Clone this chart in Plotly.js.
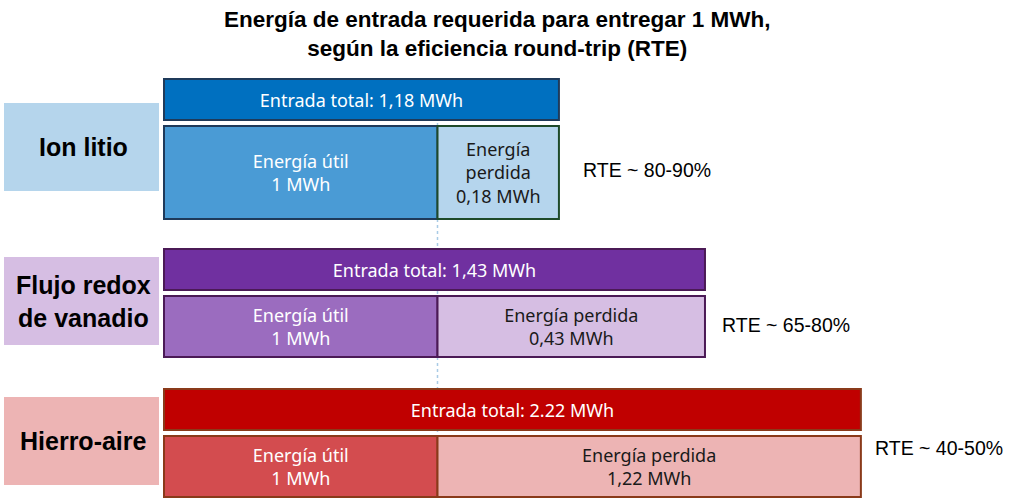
<!DOCTYPE html>
<html>
<head>
<meta charset="utf-8">
<script src="https://cdn.plot.ly/plotly-3.0.1.min.js"></script>
<style>
  html, body { margin: 0; padding: 0; background: #fff; }
  #chart { width: 1024px; height: 503px; }
</style>
</head>
<body>
<div id="chart"></div>
<script>
// Technologies (label boxes on the left)
var techs = ['Ion litio', 'Flujo redox<br>de vanadio', 'Hierro-aire'];

// Values written on the bars
var totalLabels = ['1,18 MWh', '1,43 MWh', '2.22 MWh'];
var usefulLabels = ['1 MWh', '1 MWh', '1 MWh'];
var lostLabels = ['0,18 MWh', '0,43 MWh', '1,22 MWh'];
var rteRanges = ['80-90%', '65-80%', '40-50%'];

// Bar lengths as drawn in the picture, in units of the 1 MWh "useful" bar
// (the original graphic is not drawn to scale)
var drawnUseful = [1, 1, 1];
var drawnLost = [0.444, 0.978, 1.548];
var drawnTotal = [1.444, 1.978, 2.548];

// Colours per technology
var totalColors = ['#0070C0', '#7030A0', '#C00000'];
var usefulColors = ['#4A9BD5', '#9B6CBF', '#D34C4F'];
var lostColors = ['#B5D5ED', '#D6BEE3', '#EDB4B4'];
var boxColors = ['#B5D5EC', '#D6BEE3', '#EDB4B4'];
var edgeColors = ['#1F3A5A', '#4B1A56', '#8A3A1A'];
var lostEdgeColors = ['#1E4A2A', '#4B1A56', '#8A3A1A'];

// vertical layout of each group (pixel rows, y axis runs top to bottom)
var groupTop = [79, 249, 389];
var topH = 41;
var gapH = 6;
var bottomH = [93, 61, 61];
var rteY = [170, 325, 448];
var rteGap = [22, 15, 12];

var W = 1024, H = 503;
var xStart = 164, unitPx = 273.5;   // pixel of x=0 and pixels per unit

var topY = [], bottomY = [], bottomW = [], topW = [];
for (var i = 0; i < techs.length; i++) {
    topY.push(groupTop[i] + topH / 2);
    topW.push(topH);
    bottomY.push(groupTop[i] + topH + gapH + bottomH[i] / 2);
    bottomW.push(bottomH[i]);
}

var barFont = 'Noto Sans, Open Sans, sans-serif';

var totalTrace = {
    type: 'bar', orientation: 'h',
    x: drawnTotal, y: topY, width: topW, base: 0,
    marker: { color: totalColors, line: { color: edgeColors, width: 2 } },
    text: totalLabels.map(function (t) { return 'Entrada total: ' + t; }),
    textposition: 'inside', insidetextanchor: 'middle', textangle: 0,
    constraintext: 'none',
    textfont: { family: barFont, size: 18, color: '#ffffff' },
    hoverinfo: 'skip'
};

var usefulTrace = {
    type: 'bar', orientation: 'h',
    x: drawnUseful, y: bottomY, width: bottomW, base: 0,
    marker: { color: usefulColors, line: { color: edgeColors, width: 2 } },
    text: usefulLabels.map(function (t) { return 'Energía útil<br>' + t; }),
    textposition: 'inside', insidetextanchor: 'middle', textangle: 0,
    constraintext: 'none',
    textfont: { family: barFont, size: 18, color: '#ffffff' },
    hoverinfo: 'skip'
};

var lostTrace = {
    type: 'bar', orientation: 'h',
    x: drawnLost, y: bottomY, width: bottomW, base: drawnUseful,
    marker: { color: lostColors, line: { color: lostEdgeColors, width: 2 } },
    text: lostLabels.map(function (t, i) {
        return i === 0 ? 'Energía<br>perdida<br>' + t : 'Energía perdida<br>' + t;
    }),
    textposition: 'inside', insidetextanchor: 'middle', textangle: 0,
    constraintext: 'none',
    textfont: { family: barFont, size: 18, color: '#1a1a1a' },
    hoverinfo: 'skip'
};

var shapes = [{
    type: 'line', xref: 'x', yref: 'y', layer: 'below',
    x0: drawnUseful[0], x1: drawnUseful[0], y0: groupTop[0] + 2, y1: 497,
    line: { color: '#A9CBE6', width: 1.5, dash: 'dot' }
}];

var annotations = [{
    xref: 'paper', yref: 'paper', x: 497 / W, y: 1 - 5 / H,
    xanchor: 'center', yanchor: 'top', showarrow: false,
    text: '<b>Energía de entrada requerida para entregar 1 MWh,</b><br><b>según la eficiencia round-trip (RTE)</b>',
    font: { family: 'Liberation Sans, Arial, sans-serif', size: 22.5, color: '#000' }
}];

for (var j = 0; j < techs.length; j++) {
    var cy = groupTop[j] + (topH + gapH + bottomH[j]) / 2 - 2;
    shapes.push({
        type: 'rect', xref: 'paper', yref: 'y', layer: 'below',
        x0: 4 / W, x1: 159 / W, y0: cy - 44, y1: cy + 44,
        fillcolor: boxColors[j], line: { width: 0 }
    });
    annotations.push({
        xref: 'paper', yref: 'y', x: 83 / W, y: cy,
        text: '<b>' + techs[j] + '</b>', showarrow: false,
        xanchor: 'center', yanchor: 'middle',
        font: { family: 'Liberation Sans, Arial, sans-serif', size: 25, color: '#000' }
    });
    annotations.push({
        xref: 'x', yref: 'y', x: drawnTotal[j] + rteGap[j] / unitPx, y: rteY[j],
        text: 'RTE ~ ' + rteRanges[j], showarrow: false,
        xanchor: 'left', yanchor: 'middle',
        font: { family: 'Liberation Sans, Arial, sans-serif', size: 19.5, color: '#000' }
    });
}

var layout = {
    width: W, height: H,
    margin: { l: 0, r: 0, t: 0, b: 0, pad: 0 },
    paper_bgcolor: '#ffffff', plot_bgcolor: '#ffffff',
    showlegend: false,
    barmode: 'overlay',
    xaxis: {
        range: [-xStart / unitPx, (W - xStart) / unitPx],
        visible: false, fixedrange: true
    },
    yaxis: {
        type: 'linear', range: [H, 0],
        visible: false, fixedrange: true
    },
    shapes: shapes,
    annotations: annotations
};

Plotly.newPlot('chart', [totalTrace, usefulTrace, lostTrace], layout, { staticPlot: true, displayModeBar: false });
</script>
</body>
</html>
